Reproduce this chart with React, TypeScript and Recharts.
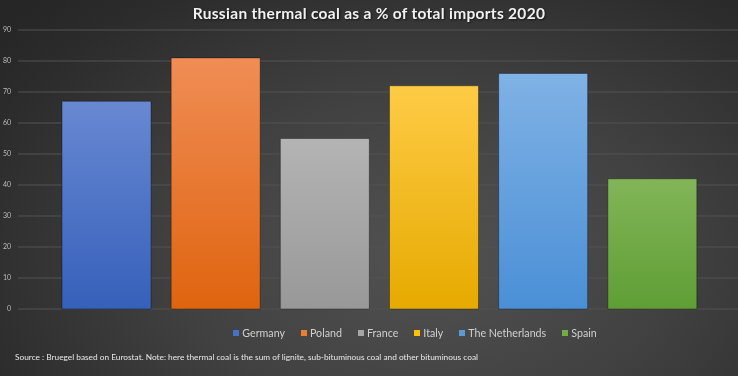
import React from 'react';
import { BarChart, Bar, XAxis, YAxis, CartesianGrid, Cell, Legend } from 'recharts';

const countries = ['Germany', 'Poland', 'France', 'Italy', 'The Netherlands', 'Spain'];
const shares = [67, 81, 55, 72, 76, 42];
const yTicks = [0, 10, 20, 30, 40, 50, 60, 70, 80, 90];

// top / bottom of each bar gradient, legend uses the mid colour
const barTop = ['#6888d2', '#f08d55', '#b4b4b4', '#fecb45', '#80b2e5', '#82b558'];
const barBottom = ['#3660ba', '#df640f', '#989898', '#e6aa00', '#4a8fd6', '#5f9e35'];
const swatch = ['#4472c4', '#ed7d31', '#a5a5a5', '#ffc000', '#5b9bd5', '#70ad47'];

const data = countries.map((name, i) => ({ name, value: shares[i] }));

const font = 'Lato, "Open Sans", "DejaVu Sans", sans-serif';

const LegendContent = () => (
  <div style={{ display: 'flex', justifyContent: 'center', alignItems: 'center', gap: 16, fontFamily: font, fontSize: 10.7, color: '#d0d0d0', paddingLeft: 92 }}>
    {countries.map((c, i) => (
      <div key={c} style={{ display: 'flex', alignItems: 'center' }}>
        <span style={{ width: 6, height: 6, background: swatch[i], marginRight: 3, display: 'inline-block' }} />
        <span>{c}</span>
      </div>
    ))}
  </div>
);

export default function App() {
  return (
    <div
      style={{
        position: 'fixed',
        left: 0,
        top: 0,
        width: 738,
        height: 376,
        overflow: 'hidden',
        background: 'radial-gradient(ellipse 75% 95% at 58% 68%, #525252 0%, #414141 45%, #2c2c2c 85%, #262626 100%)',
      }}
    >
      <div
        style={{
          position: 'absolute',
          top: 4,
          left: 0,
          width: 738,
          textAlign: 'center',
          fontFamily: font,
          fontWeight: 700,
          fontSize: 15.5,
          color: '#f2f2f2',
          letterSpacing: 0.3,
          textShadow: '1px 1px 2px rgba(0,0,0,0.6)',
        }}
      >
        Russian thermal coal as a % of total imports 2020
      </div>

      <BarChart
        width={738}
        height={376}
        data={data}
        margin={{ top: 30, right: 0, bottom: 67, left: 0 }}
        barCategoryGap={10}
      >
        <defs>
          {countries.map((c, i) => (
            <linearGradient key={c} id={`bar-${i}`} x1="0" y1="0" x2="0" y2="1">
              <stop offset="0%" stopColor={barTop[i]} />
              <stop offset="100%" stopColor={barBottom[i]} />
            </linearGradient>
          ))}
        </defs>
        <CartesianGrid vertical={false} stroke="#535353" strokeWidth={1} />
        <XAxis dataKey="name" hide padding={{ left: 34, right: 31 }} />
        <YAxis
          width={18}
          domain={[0, 90]}
          ticks={yTicks}
          axisLine={false}
          tickLine={false}
          tickSize={5}
          tick={{ fill: '#bcbcbc', fontSize: 7, fontFamily: font }}
        />
        <Legend
          verticalAlign="middle"
          content={<LegendContent />}
          wrapperStyle={{ top: 326, left: 0, width: 738 }}
        />
        <Bar dataKey="value" isAnimationActive={false} stroke="rgba(0,0,0,0.35)" strokeWidth={1}>
          {data.map((d, i) => (
            <Cell key={d.name} fill={`url(#bar-${i})`} />
          ))}
        </Bar>
      </BarChart>

      <div
        style={{
          position: 'absolute',
          top: 352,
          left: 15,
          fontFamily: font,
          fontSize: 8.3,
          color: '#e8e8e8',
          whiteSpace: 'nowrap',
        }}
      >
        Source : Bruegel based on Eurostat. Note: here thermal coal is the sum of lignite, sub-bituminous coal and other bituminous coal
      </div>
    </div>
  );
}
